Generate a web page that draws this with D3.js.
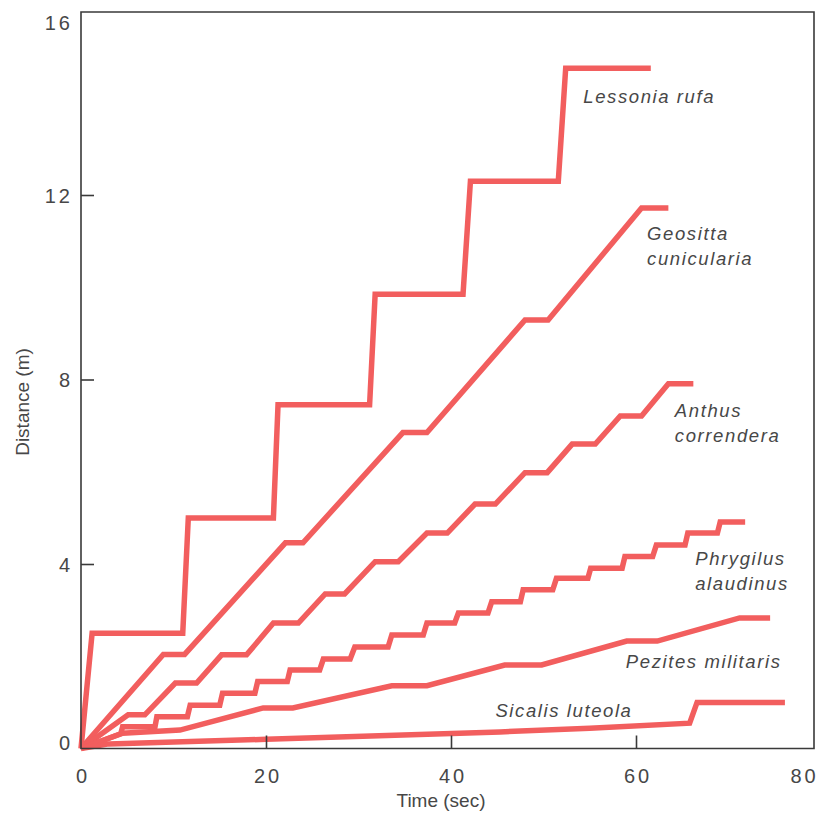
<!DOCTYPE html>
<html>
<head>
<meta charset="utf-8">
<script src="https://cdn.jsdelivr.net/npm/d3@7"></script>
<style>
  html, body { margin: 0; padding: 0; background: #fff; }
  svg { display: block; }
  text { font-family: "Liberation Sans", Arial, Helvetica, sans-serif; fill: #474747; }
</style>
</head>
<body>
<svg id="chart" width="823" height="820"></svg>
<script>
// Cumulative distance (m) against time (sec) for six ground-foraging birds.
// Each series is a list of [time, distance] vertices of its track.
const lessonia = [[0,0],[1.2,2.5],[11.0,2.5],[11.6,5.0],[20.8,5.0],[21.3,7.45],[31.2,7.45],[31.8,9.85],[41.3,9.85],[42.1,12.3],[51.6,12.3],[52.4,14.75],[61.6,14.75]];
const geositta = [[0,0],[8.9,2.04],[11.2,2.04],[22.1,4.46],[24.0,4.46],[34.8,6.85],[37.4,6.85],[48.0,9.29],[50.5,9.29],[60.6,11.72],[63.5,11.72]];
const anthus = [[0,0],[5.1,0.73],[6.9,0.73],[10.2,1.42],[12.5,1.42],[15.2,2.03],[17.9,2.03],[20.8,2.72],[23.5,2.72],[26.4,3.35],[28.5,3.35],[31.8,4.05],[34.3,4.05],[37.4,4.67],[39.6,4.67],[42.6,5.3],[44.8,5.3],[48.0,5.98],[50.4,5.98],[53.1,6.6],[55.6,6.6],[58.3,7.21],[60.6,7.21],[63.5,7.91],[66.2,7.91]];
const phrygilus = [[0,0],[4.3,0.32],[4.5,0.47],[8.0,0.47],[8.2,0.69],[11.5,0.69],[11.8,0.94],[15.0,0.94],[15.3,1.2],[18.8,1.2],[19.1,1.45],[22.3,1.45],[22.6,1.7],[25.8,1.7],[26.2,1.94],[29.1,1.94],[29.6,2.2],[33.2,2.2],[33.6,2.46],[37.0,2.46],[37.4,2.72],[40.4,2.72],[40.8,2.94],[44.0,2.94],[44.4,3.18],[47.5,3.18],[47.8,3.44],[51.0,3.44],[51.4,3.69],[54.8,3.69],[55.1,3.91],[58.5,3.91],[58.8,4.16],[61.8,4.16],[62.2,4.41],[65.3,4.41],[65.6,4.67],[68.8,4.67],[69.1,4.91],[71.8,4.91]];
const pezites = [[0,0],[4.5,0.33],[10.7,0.4],[19.7,0.88],[22.9,0.88],[33.6,1.36],[37.4,1.36],[45.8,1.81],[49.8,1.81],[59.0,2.33],[62.3,2.33],[71.2,2.83],[74.5,2.83]];
const sicalis = [[0,0],[3.0,0.1],[20.0,0.2],[45.3,0.36],[55.0,0.44],[65.8,0.55],[66.6,1.0],[76.1,1.0]];

const seriesData = [lessonia, geositta, anthus, phrygilus, pezites, sicalis];
const speciesLabels = [["Lessonia rufa"], ["Geositta", "cunicularia"], ["Anthus", "correndera"], ["Phrygilus", "alaudinus"], ["Pezites militaris"], ["Sicalis luteola"]];
// label anchors (time, distance) of the first line's baseline
const labelAnchors = [[54.3, 14.0], [61.2, 11.03], [64.2, 7.19], [66.4, 3.98], [58.9, 1.75], [44.8, 0.68]];

const xTicks = [0, 20, 40, 60, 80];
const yTicks = [0, 4, 8, 12, 16];
const xTitle = "Time (sec)";
const yTitle = "Distance (m)";

const svg = d3.select("#chart");
const x = d3.scaleLinear().domain([0, 80]).range([81, 821]);
const y = d3.scaleLinear().domain([0, 16]).range([748.5, 10.5]);
const frameRight = 814, frameTop = 12;

const lineColor = "#f25e5e";
const axisColor = "#3a3a3a";

// data tracks
const line = d3.line().x(d => x(d[0])).y(d => y(d[1]));
svg.append("g").selectAll("path").data(seriesData).join("path")
  .attr("d", line)
  .attr("fill", "none")
  .attr("stroke", lineColor)
  .attr("stroke-width", 5.5)
  .attr("stroke-linejoin", "miter")
  .attr("stroke-miterlimit", 3)
  .attr("stroke-linecap", "butt");

// frame
svg.append("path")
  .attr("d", `M${x(0)},${frameTop} H${frameRight} V${y(0)} H${x(0)} Z`)
  .attr("fill", "none")
  .attr("stroke", axisColor)
  .attr("stroke-width", 1.6);

// x axis: inward ticks
const xAxis = svg.append("g").attr("transform", `translate(0,${y(0)})`)
  .call(d3.axisBottom(x).tickValues(xTicks).tickFormat(d3.format("d")).tickSizeInner(-13).tickSizeOuter(0).tickPadding(20));
xAxis.select(".domain").remove();
xAxis.selectAll(".tick line").attr("stroke", axisColor).attr("stroke-width", 1.6)
  .attr("display", d => (d === 0 || d === 80) ? "none" : null);
xAxis.selectAll(".tick text")
  .style("font-size", "20px").style("letter-spacing", "3px").attr("fill", "#474747")
  .attr("dx", d => d === 80 ? "-17px" : "1.5px");

// y axis: inward ticks
const yAxis = svg.append("g").attr("transform", `translate(${x(0)},0)`)
  .call(d3.axisLeft(y).tickValues(yTicks).tickFormat(d3.format("d")).tickSizeInner(-13).tickSizeOuter(0).tickPadding(8));
yAxis.select(".domain").remove();
yAxis.selectAll(".tick line").attr("stroke", axisColor).attr("stroke-width", 1.6)
  .attr("display", d => (d === 0 || d === 16) ? "none" : null);
yAxis.selectAll(".tick text")
  .style("font-size", "20px").style("letter-spacing", "3px").attr("fill", "#474747")
  .attr("dy", d => d === 16 ? "0.95em" : (d === 0 ? "0.05em" : "0.36em"));

// axis titles
svg.append("text")
  .attr("x", 441).attr("y", 807)
  .attr("text-anchor", "middle")
  .style("font-size", "19px")
  .text(xTitle);
svg.append("text")
  .attr("transform", `translate(29,402) rotate(-90)`)
  .attr("text-anchor", "middle")
  .style("font-size", "19px")
  .text(yTitle);

// species labels
const labels = svg.append("g").selectAll("text").data(speciesLabels).join("text")
  .attr("x", (d, i) => x(labelAnchors[i][0]))
  .attr("y", (d, i) => y(labelAnchors[i][1]))
  .style("font-size", "18.5px")
  .style("font-style", "italic")
  .style("letter-spacing", "1.6px");
labels.selectAll("tspan").data((d, i) => d.map(t => ({t, i}))).join("tspan")
  .attr("x", d => x(labelAnchors[d.i][0]))
  .attr("dy", (d, j) => j === 0 ? 0 : 25)
  .text(d => d.t);
</script>
</body>
</html>
